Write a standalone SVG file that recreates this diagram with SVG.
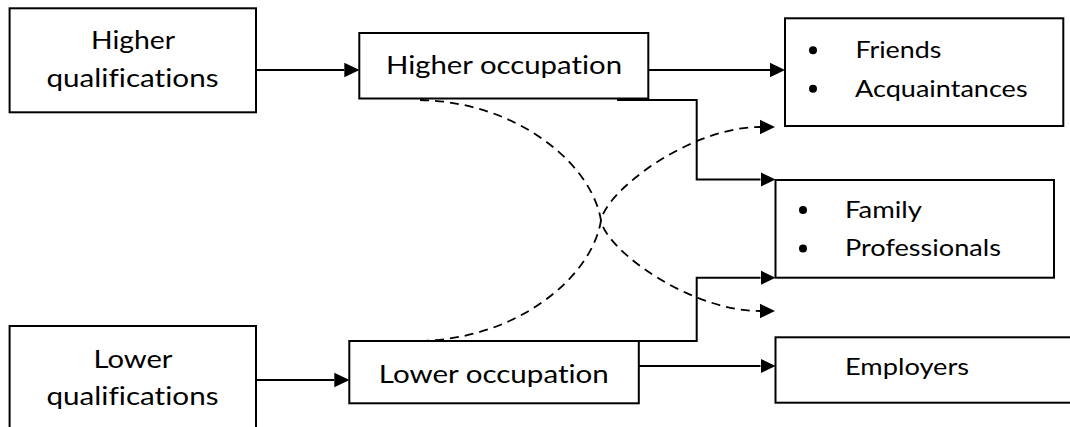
<svg xmlns="http://www.w3.org/2000/svg" width="1070" height="427" viewBox="0 0 1070 427">
  <style>
    .box { fill: #ffffff; stroke: #000000; stroke-width: 2; }
    .lbl { font-family: Lato, "Liberation Sans", sans-serif; fill: #000000; font-variant-ligatures: none; font-feature-settings: "liga" 0, "clig" 0, "dlig" 0; }
    .big { font-size: 25px; }
    .small { font-size: 23px; }
    .line { fill: none; stroke: #000000; stroke-width: 2; }
    .dash { fill: none; stroke: #000000; stroke-width: 1.8; stroke-dasharray: 9 6; }
    .dot { fill: #000000; }
  </style>
  <defs>
    <marker id="arrow" markerUnits="userSpaceOnUse" viewBox="0 -8 15 16" refX="0" refY="0" markerWidth="15" markerHeight="16" orient="auto">
      <path d="M0,-7.3 L15,0 L0,7.3 Z" fill="#000000"/>
    </marker>
  </defs>

  <rect width="1070" height="427" fill="#ffffff"/>

  <!-- connectors -->
  <g id="connectors">
    <path class="line" d="M256,70 H344.3" marker-end="url(#arrow)"/>
    <path class="line" d="M648.3,70 H770" marker-end="url(#arrow)"/>
    <path class="line" d="M617,100 H696.7 V179.5 H760.5" marker-end="url(#arrow)"/>
    <path class="line" d="M617,341 H696.7 V277.7 H760.5" marker-end="url(#arrow)"/>
    <path class="line" d="M256,380 H334.3" marker-end="url(#arrow)"/>
    <path class="line" d="M638.8,366 H760.5" marker-end="url(#arrow)"/>
    <!-- crossing dashed links -->
    <path class="dash" d="M420,100 C519,102 592,165 601,220.5 C606,250 690,311 760,311" marker-end="url(#arrow)"/>
    <path class="dash" d="M420,341 C519,339 592,276 601,220.5 C606,191 690,127 760,127" marker-end="url(#arrow)"/>
  </g>

  <g id="higher-qualifications">
    <rect class="box" x="9.6" y="8.3" width="246.4" height="104"/>
    <text class="lbl big" x="91" y="49.3" textLength="84" lengthAdjust="spacingAndGlyphs">Higher</text>
    <text class="lbl big" x="46.5" y="87.3" textLength="172" lengthAdjust="spacingAndGlyphs">qualifications</text>
  </g>

  <g id="higher-occupation">
    <rect class="box" x="359.3" y="33" width="289" height="65.5"/>
    <text class="lbl big" x="386" y="74" textLength="236" lengthAdjust="spacingAndGlyphs">Higher occupation</text>
  </g>

  <g id="friends-acquaintances">
    <rect class="box" x="785" y="18.3" width="278.3" height="107.7"/>
    <circle class="dot" cx="813" cy="50.3" r="4"/>
    <circle class="dot" cx="813" cy="88.7" r="4"/>
    <text class="lbl small" x="855.4" y="58.3" textLength="86" lengthAdjust="spacingAndGlyphs">Friends</text>
    <text class="lbl small" x="855" y="96.7" textLength="172.6" lengthAdjust="spacingAndGlyphs">Acquaintances</text>
  </g>

  <g id="family-professionals">
    <rect class="box" x="775.5" y="180" width="278.5" height="97.7"/>
    <circle class="dot" cx="803" cy="210" r="4"/>
    <circle class="dot" cx="803" cy="248.5" r="4"/>
    <text class="lbl small" x="845" y="218" textLength="77" lengthAdjust="spacingAndGlyphs">Family</text>
    <text class="lbl small" x="845" y="256" textLength="156" lengthAdjust="spacingAndGlyphs">Professionals</text>
  </g>

  <g id="lower-qualifications">
    <rect class="box" x="9.6" y="326" width="246.4" height="120"/>
    <text class="lbl big" x="93.5" y="368.3" textLength="79" lengthAdjust="spacingAndGlyphs">Lower</text>
    <text class="lbl big" x="46.5" y="405" textLength="172" lengthAdjust="spacingAndGlyphs">qualifications</text>
  </g>

  <g id="lower-occupation">
    <rect class="box" x="349.3" y="341" width="289.5" height="62.3"/>
    <text class="lbl big" x="378.8" y="383.3" textLength="230" lengthAdjust="spacingAndGlyphs">Lower occupation</text>
  </g>

  <g id="employers">
    <rect class="box" x="775.5" y="337.3" width="310" height="65.4"/>
    <text class="lbl small" x="845" y="375" textLength="124" lengthAdjust="spacingAndGlyphs">Employers</text>
  </g>
</svg>
